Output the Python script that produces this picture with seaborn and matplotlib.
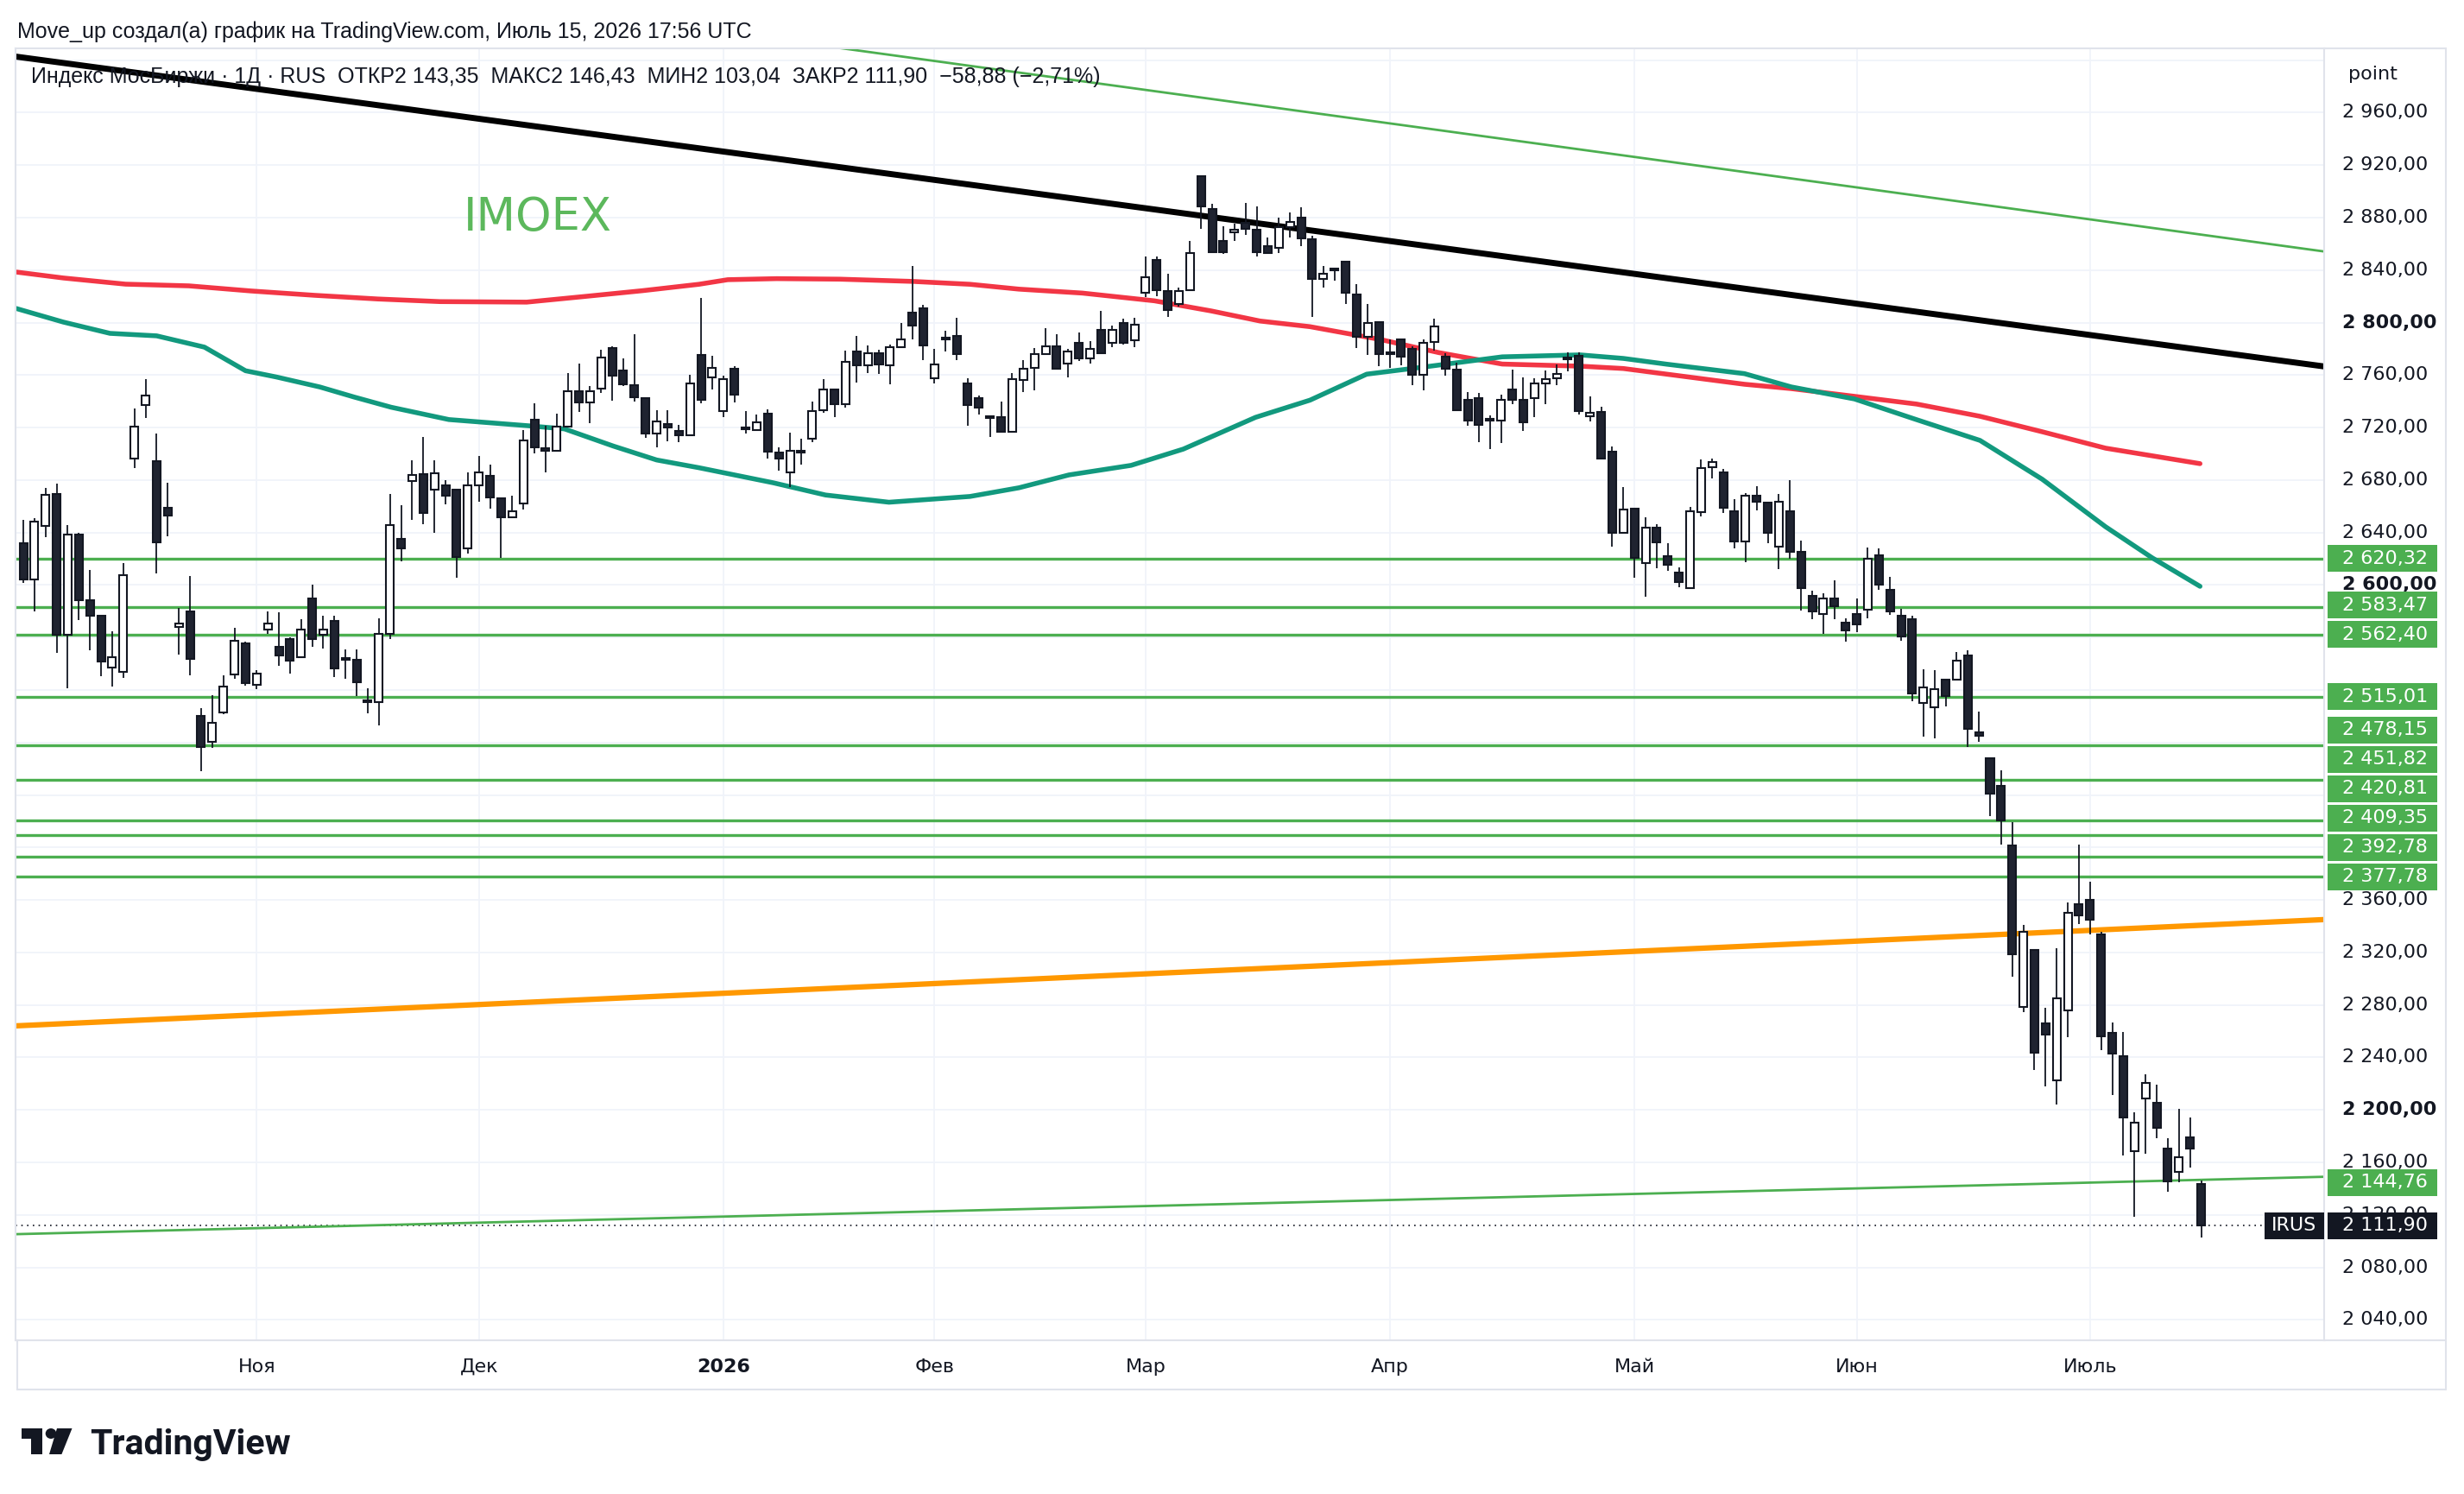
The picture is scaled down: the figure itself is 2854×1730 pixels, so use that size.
import matplotlib
matplotlib.use("Agg")
import numpy as np
import pandas as pd
import matplotlib.pyplot as plt
import seaborn as sns
from matplotlib.patches import Rectangle, Ellipse, Polygon
from matplotlib.lines import Line2D

# ---- daily candles, IMOEX ----
opens = [2631.9, 2604.4, 2645.3, 2669.5, 2562.2, 2638.5, 2588.2, 2576.5, 2537.4, 2534.1,
         2696.3, 2737.4, 2694.3, 2658.7, 2568.2, 2579.8, 2500.5, 2480.5, 2502.7, 2531.9,
         2555.6, 2524.2, 2566.2, 2552.8, 2558.7, 2545.1, 2590.0, 2562.2, 2572.9, 2543.5,
         2542.9, 2511.3, 2511.1, 2562.8, 2635.0, 2679.1, 2684.4, 2673.0, 2676.3, 2672.5,
         2628.0, 2676.3, 2683.5, 2666.4, 2651.7, 2662.4, 2726.3, 2704.3, 2702.3, 2720.8,
         2748.0, 2739.2, 2749.7, 2780.5, 2763.3, 2752.6, 2742.7, 2715.3, 2723.0, 2717.3,
         2714.2, 2775.4, 2758.5, 2732.6, 2764.7, 2719.5, 2718.4, 2730.9, 2701.1, 2685.7,
         2701.1, 2711.4, 2733.3, 2749.3, 2738.1, 2778.3, 2767.3, 2776.5, 2767.3, 2781.6,
         2807.9, 2811.2, 2757.9, 2787.5, 2789.9, 2753.7, 2742.5, 2727.2, 2727.8, 2716.9,
         2756.3, 2765.5, 2776.0, 2782.2, 2769.0, 2784.8, 2772.7, 2794.2, 2784.8, 2799.5,
         2786.5, 2822.7, 2848.0, 2824.3, 2814.4, 2824.7, 2911.4, 2886.8, 2862.0, 2868.8,
         2875.8, 2871.0, 2858.3, 2856.8, 2873.0, 2880.0, 2863.8, 2833.1, 2840.1, 2846.3,
         2821.7, 2789.2, 2800.2, 2776.1, 2787.0, 2780.0, 2760.3, 2785.3, 2774.3, 2764.4,
         2741.4, 2742.7, 2725.6, 2725.1, 2749.3, 2740.9, 2742.5, 2753.4, 2757.8, 2772.1,
         2774.9, 2728.4, 2731.7, 2701.4, 2640.0, 2658.0, 2616.5, 2643.9, 2622.0, 2609.7,
         2597.9, 2655.8, 2690.0, 2685.6, 2656.0, 2633.0, 2667.8, 2663.0, 2629.0, 2656.0,
         2625.1, 2591.7, 2577.9, 2589.5, 2571.5, 2578.1, 2581.4, 2622.4, 2596.1, 2576.8,
         2574.2, 2510.1, 2506.8, 2528.1, 2527.6, 2546.1, 2487.9, 2468.3, 2447.2, 2401.6,
         2278.7, 2321.6, 2265.8, 2222.4, 2275.7, 2357.0, 2360.0, 2333.9, 2258.8, 2241.0,
         2168.6, 2208.8, 2205.5, 2170.3, 2153.0, 2179.0, 2143.35]
highs = [2649.7, 2651.2, 2673.7, 2677.6, 2645.7, 2639.8, 2611.7, 2576.5, 2564.9, 2616.7,
         2734.7, 2757.1, 2715.6, 2678.0, 2582.5, 2606.8, 2506.0, 2515.9, 2531.0, 2567.3,
         2556.8, 2534.8, 2579.8, 2579.2, 2560.0, 2573.8, 2600.1, 2576.4, 2576.4, 2550.6,
         2550.6, 2521.2, 2574.7, 2669.7, 2660.9, 2694.9, 2712.9, 2694.9, 2679.6, 2673.6,
         2685.7, 2698.2, 2691.6, 2666.8, 2667.9, 2717.9, 2738.8, 2721.2, 2730.4, 2761.4,
         2768.8, 2751.9, 2779.4, 2782.0, 2772.8, 2791.0, 2743.2, 2733.3, 2733.3, 2722.3,
         2760.0, 2818.8, 2774.5, 2759.6, 2766.6, 2732.6, 2730.0, 2733.7, 2704.8, 2716.2,
         2711.4, 2739.9, 2756.8, 2749.8, 2778.7, 2789.7, 2782.7, 2779.4, 2783.1, 2799.8,
         2843.0, 2813.4, 2779.8, 2793.7, 2803.5, 2757.9, 2744.3, 2728.3, 2739.9, 2761.8,
         2771.2, 2780.4, 2795.8, 2790.9, 2780.0, 2792.5, 2785.9, 2808.9, 2798.0, 2803.0,
         2803.4, 2850.2, 2850.2, 2837.0, 2826.9, 2862.0, 2911.4, 2890.8, 2873.6, 2875.4,
         2891.2, 2888.3, 2864.9, 2880.0, 2884.0, 2888.0, 2866.0, 2843.0, 2841.4, 2846.7,
         2829.1, 2814.0, 2800.6, 2787.0, 2787.5, 2782.2, 2787.5, 2803.0, 2776.5, 2769.5,
         2747.1, 2746.4, 2729.5, 2744.9, 2764.0, 2758.0, 2757.4, 2763.3, 2768.3, 2777.1,
         2777.1, 2743.5, 2736.1, 2705.4, 2674.4, 2658.0, 2651.6, 2646.6, 2631.7, 2613.7,
         2659.3, 2695.9, 2696.6, 2688.3, 2665.2, 2670.2, 2675.1, 2663.5, 2669.2, 2679.9,
         2634.1, 2595.4, 2593.9, 2603.3, 2574.6, 2589.5, 2628.3, 2627.9, 2606.0, 2581.8,
         2576.4, 2535.8, 2535.1, 2528.5, 2548.9, 2550.0, 2503.5, 2468.6, 2459.1, 2419.5,
         2340.9, 2322.0, 2277.7, 2323.5, 2358.2, 2402.1, 2374.1, 2335.7, 2266.3, 2259.6,
         2198.4, 2227.4, 2219.4, 2178.5, 2200.8, 2194.4, 2146.43]
lows = [2601.4, 2579.8, 2636.5, 2548.6, 2521.6, 2573.2, 2550.2, 2530.4, 2522.5, 2529.1,
        2689.2, 2727.5, 2608.8, 2637.0, 2546.9, 2531.0, 2458.3, 2475.7, 2501.8, 2528.6,
        2523.1, 2520.9, 2562.9, 2538.1, 2532.6, 2544.6, 2552.7, 2551.6, 2529.7, 2528.8,
        2515.5, 2502.3, 2493.1, 2558.9, 2618.1, 2649.9, 2646.2, 2640.1, 2661.3, 2605.4,
        2624.1, 2663.5, 2658.1, 2620.8, 2651.7, 2657.6, 2700.4, 2686.1, 2701.9, 2720.8,
        2732.2, 2723.4, 2746.4, 2740.3, 2751.9, 2739.6, 2712.4, 2704.8, 2709.8, 2708.7,
        2714.2, 2738.8, 2749.3, 2728.2, 2739.4, 2715.3, 2718.4, 2696.6, 2687.2, 2674.7,
        2691.6, 2709.2, 2731.1, 2727.8, 2735.1, 2754.6, 2761.8, 2760.7, 2752.8, 2781.6,
        2787.1, 2771.7, 2753.7, 2777.9, 2771.7, 2721.3, 2730.0, 2712.9, 2716.9, 2716.9,
        2747.1, 2748.2, 2776.0, 2764.6, 2758.0, 2770.5, 2768.8, 2776.5, 2781.1, 2783.0,
        2781.1, 2819.5, 2820.3, 2804.1, 2812.2, 2824.7, 2871.5, 2852.8, 2852.1, 2862.0,
        2866.6, 2850.2, 2852.4, 2853.0, 2864.9, 2858.0, 2804.6, 2826.5, 2832.0, 2814.4,
        2780.4, 2775.6, 2766.8, 2765.5, 2767.7, 2752.4, 2748.2, 2778.7, 2759.6, 2733.3,
        2721.6, 2709.1, 2703.7, 2708.0, 2737.6, 2717.2, 2727.8, 2737.6, 2752.5, 2762.9,
        2730.0, 2724.5, 2695.7, 2629.0, 2639.6, 2605.3, 2591.1, 2612.6, 2611.0, 2598.3,
        2597.9, 2652.1, 2681.2, 2654.7, 2627.9, 2617.6, 2656.9, 2631.6, 2611.9, 2620.2,
        2580.3, 2573.7, 2562.5, 2574.2, 2556.6, 2564.3, 2574.8, 2596.1, 2577.4, 2557.7,
        2511.6, 2484.6, 2482.9, 2507.2, 2527.0, 2476.5, 2480.3, 2423.7, 2402.1, 2301.2,
        2274.5, 2230.6, 2218.2, 2203.8, 2255.4, 2341.9, 2333.9, 2245.5, 2211.3, 2165.4,
        2118.3, 2166.6, 2178.5, 2137.4, 2145.0, 2156.2, 2103.04]
closes = [2604.4, 2648.4, 2668.8, 2562.2, 2638.5, 2588.2, 2576.5, 2541.8, 2544.7, 2607.3,
          2720.7, 2744.2, 2632.6, 2653.2, 2570.4, 2544.0, 2476.5, 2494.8, 2522.9, 2557.2,
          2525.3, 2532.6, 2570.4, 2546.4, 2542.4, 2565.9, 2558.9, 2565.9, 2536.3, 2542.9,
          2526.0, 2511.0, 2562.6, 2645.6, 2628.0, 2684.0, 2654.8, 2685.5, 2668.1, 2621.4,
          2675.8, 2686.1, 2666.8, 2651.7, 2656.5, 2710.3, 2704.8, 2702.6, 2720.6, 2748.0,
          2739.2, 2748.0, 2773.6, 2759.4, 2752.8, 2743.2, 2715.3, 2724.9, 2720.1, 2714.0,
          2753.9, 2741.4, 2765.5, 2756.8, 2744.9, 2718.6, 2724.1, 2701.9, 2696.7, 2702.2,
          2701.5, 2732.9, 2749.3, 2738.1, 2770.0, 2767.3, 2776.5, 2768.0, 2781.1, 2787.5,
          2797.6, 2782.7, 2767.8, 2787.6, 2776.1, 2737.3, 2735.5, 2727.3, 2716.9, 2757.0,
          2765.0, 2776.0, 2782.2, 2764.6, 2778.2, 2772.7, 2780.0, 2776.9, 2794.7, 2784.8,
          2798.6, 2834.8, 2824.7, 2809.6, 2824.3, 2853.2, 2888.3, 2853.5, 2853.5, 2871.0,
          2871.5, 2853.9, 2852.8, 2873.0, 2877.0, 2864.3, 2833.5, 2837.0, 2840.3, 2822.6,
          2789.2, 2799.7, 2776.1, 2776.3, 2773.9, 2760.3, 2784.4, 2796.9, 2765.1, 2733.3,
          2725.2, 2721.9, 2725.8, 2740.9, 2740.9, 2723.8, 2753.4, 2756.9, 2761.1, 2772.3,
          2732.6, 2731.5, 2696.4, 2639.6, 2657.5, 2620.7, 2643.9, 2632.3, 2615.4, 2602.3,
          2656.4, 2689.4, 2693.7, 2658.6, 2632.9, 2667.8, 2663.5, 2640.0, 2663.7, 2625.1,
          2597.9, 2579.6, 2589.9, 2583.6, 2565.4, 2569.8, 2619.8, 2600.5, 2579.6, 2560.6,
          2517.1, 2521.9, 2520.4, 2515.4, 2542.4, 2490.4, 2485.3, 2441.0, 2420.7, 2318.6,
          2335.9, 2243.5, 2257.1, 2284.9, 2350.1, 2348.1, 2344.6, 2255.9, 2242.7, 2193.9,
          2190.2, 2220.7, 2186.4, 2145.5, 2163.6, 2170.8, 2111.90]

# first bar of each month on the time axis
month_labels = ["Ноя", "Дек", "2026", "Фев", "Мар", "Апр", "Май", "Июн", "Июль"]
month_start_bar = [21, 41, 63, 82, 101, 123, 145, 165, 186]

# moving averages (bar index, value)
ma_red_bar = [-0.7, 3.6, 9.2, 14.9, 20.5, 26.2, 31.9, 37.5, 45.3, 50.5, 55.7, 60.8, 63.4,
              67.8, 73.5, 80.0, 85.2, 89.6, 95.3, 101.8, 106.9, 111.3, 115.8, 122.2, 127.4,
              133.1, 140.1, 144.0, 147.9, 154.9, 159.1, 164.8, 170.4, 176.1, 181.7, 187.4, 195.9]
ma_red_val = [2838.6, 2834.0, 2829.3, 2828.0, 2824.1, 2820.8, 2818.0, 2816.0, 2815.6, 2819.9,
              2824.3, 2829.2, 2832.7, 2833.5, 2833.1, 2831.4, 2829.2, 2825.5, 2822.5, 2816.6,
              2808.9, 2801.2, 2796.9, 2787.0, 2777.1, 2768.4, 2766.8, 2765.0, 2760.7, 2753.0,
              2749.7, 2743.8, 2737.9, 2728.6, 2716.8, 2704.3, 2692.5]
ma_teal_bar = [-0.7, 3.6, 7.8, 12.0, 16.3, 20.0, 22.8, 26.7, 29.8, 33.1, 38.3, 45.4, 48.7,
               53.1, 57.0, 60.8, 67.5, 72.2, 77.9, 85.2, 89.6, 94.1, 99.7, 104.4, 110.9,
               115.8, 120.9, 126.1, 133.1, 140.1, 144.0, 147.9, 154.9, 159.1, 164.8, 170.4,
               176.1, 181.7, 187.4, 191.6, 195.9]
ma_teal_val = [2810.9, 2800.4, 2791.8, 2789.9, 2781.3, 2763.3, 2758.5, 2750.9, 2743.2, 2735.5,
               2726.1, 2721.4, 2719.0, 2705.9, 2695.3, 2689.4, 2677.9, 2668.6, 2663.1, 2667.5,
               2674.1, 2683.9, 2691.2, 2703.6, 2727.8, 2740.9, 2760.7, 2766.2, 2773.9, 2775.4,
               2772.7, 2768.3, 2761.1, 2751.0, 2741.8, 2726.0, 2710.2, 2680.6, 2644.4, 2620.7,
               2599.0]

# drawn lines: end points (bar index, price)
black_trend_bar = [-1.0, 207.5]
black_trend_val = [3003.1, 2766.1]
green_upper_bar = [72.0, 207.5]
green_upper_val = [3011.0, 2853.7]
orange_trend_bar = [-1.0, 207.5]
orange_trend_val = [2263.9, 2345.2]
green_lower_bar = [-1.0, 207.5]
green_lower_val = [2105.2, 2149.1]
green_lower_label = 2144.76

levels = [2620.32, 2583.47, 2562.40, 2515.01, 2478.15, 2451.82, 2420.81, 2409.35, 2392.78, 2377.78]
last_close = 2111.90
bold_ticks = [2800, 2600, 2200]
hidden_ticks = [2560, 2520, 2480, 2440, 2400]  # fully under the level labels

title = "Move_up создал(а) график на TradingView.com, Июль 15, 2026 17:56 UTC"
legend = ("Индекс МосБиржи · 1Д · RUS  ОТКР2 143,35  МАКС2 146,43  МИН2 103,04  "
          "ЗАКР2 111,90  −58,88 (−2,71%)")

W, H = 2854, 1730
GREEN = "#4caf50"
DARK = "#131722"
GRID = "#f0f3fa"
BORDER = "#e0e3eb"
PX_PER_PT = 1.5193  # pixels per index point


def fx(px):
    return px / W


def fy(py):
    return 1 - py / H


def price_fmt(v):
    return f"{v:,.2f}".replace(",", " ").replace(".", ",")


sns.set_theme(style="white")
plt.rcParams["font.family"] = ["DejaVu Sans"]
HEAD_FONT = ["Liberation Sans", "DejaVu Sans"]

fig = plt.figure(figsize=(W / 100, H / 100), dpi=100)
fig.patch.set_facecolor("white")

ylo, yhi = 2024.4, 3009.0
ax = fig.add_axes([fx(18), fy(1552), (2692 - 18) / W, (1552 - 56) / H])
ax.set_facecolor("white")
ax.set_xlim(-0.70, 207.07)
ax.set_ylim(ylo, yhi)

# grid
ax.set_yticks(np.arange(2040, 3001, 40))
ax.set_yticklabels([])
ax.set_xticks(month_start_bar)
ax.set_xticklabels(month_labels)
ax.tick_params(axis="both", length=0)
ax.tick_params(axis="x", pad=15, labelsize=16, labelcolor=DARK)
ax.grid(True, color=GRID, lw=1.3)
ax.set_axisbelow(True)
for lbl in ax.get_xticklabels():
    if lbl.get_text() == "2026":
        lbl.set_fontweight("bold")
for sp in ax.spines.values():
    sp.set_color(BORDER)
    sp.set_linewidth(1.5)

# horizontal levels
ax.hlines(levels, -1, 208, color=GREEN, lw=2.4, zorder=2)
ax.axhline(last_close, color=DARK, lw=1.2, ls=(0, (1, 3)), zorder=2)

# trend lines
ax.plot(black_trend_bar, black_trend_val, color="black", lw=5, zorder=2.5, solid_capstyle="butt")
ax.plot(green_upper_bar, green_upper_val, color=GREEN, lw=2.0, zorder=2)
ax.plot(orange_trend_bar, orange_trend_val, color="#ff9800", lw=4.5, zorder=2)
ax.plot(green_lower_bar, green_lower_val, color=GREEN, lw=2.0, zorder=2)

# moving averages
ma = pd.DataFrame({"bar": ma_red_bar, "val": ma_red_val})
sns.lineplot(data=ma, x="bar", y="val", ax=ax, color="#f23645", lw=4, sort=False,
             estimator=None, zorder=2.2)
ma = pd.DataFrame({"bar": ma_teal_bar, "val": ma_teal_val})
sns.lineplot(data=ma, x="bar", y="val", ax=ax, color="#12997e", lw=4, sort=False,
             estimator=None, zorder=2.2)
ax.set_xlabel("")
ax.set_ylabel("")

# candles
df = pd.DataFrame({"open": opens, "high": highs, "low": lows, "close": closes})
df["bar"] = np.arange(len(df))
df["bottom"] = df[["open", "close"]].min(axis=1)
df["body"] = (df["close"] - df["open"]).abs().clip(lower=1.2)
fills = np.where(df["close"] >= df["open"], "white", "#1f2330")
ax.vlines(df["bar"], df["low"], df["high"], color=DARK, lw=1.3, zorder=4)
ax.bar(df["bar"], df["body"], bottom=df["bottom"], width=0.7, color=fills,
       edgecolor=DARK, linewidth=1.5, zorder=5)

# header texts
fig.text(fx(20), fy(44), title, fontsize=18, family=HEAD_FONT, color=DARK, va="baseline")
fig.text(fx(36), fy(96), legend, fontsize=18, family=HEAD_FONT, color=DARK, va="baseline",
         zorder=10)
fig.text(fx(537), fy(267), "IMOEX", fontsize=38, color="#5cb85c", va="baseline")

# right price scale
axr = fig.add_axes([fx(2692), fy(1552), (2833 - 2692) / W, (1552 - 56) / H])
axr.set_xlim(0, 141)
axr.set_ylim(ylo, yhi)
axr.axis("off")
for v in np.arange(2040, 2961, 40):
    if v in hidden_ticks:
        continue
    axr.text(21, v, price_fmt(v), va="center", ha="left", fontsize=16, color=DARK,
             fontweight="bold" if v in bold_ticks else "normal", zorder=1)

half = 15.5 / PX_PER_PT
step = 34 / PX_PER_PT
placed = {}
prev = None
for v in sorted(levels):
    y = v if prev is None else max(v, prev + step)
    placed[v] = y
    prev = y


def price_box(y, txt, fc):
    axr.add_patch(Rectangle((4, y - half), 127, 2 * half, fc=fc, ec="none", zorder=3,
                            clip_on=False))
    axr.text(21, y, txt, va="center", ha="left", fontsize=16, color="white", zorder=4)


for v, y in placed.items():
    price_box(y, price_fmt(v), GREEN)
price_box(green_lower_label, price_fmt(green_lower_label), GREEN)
price_box(last_close, price_fmt(last_close), DARK)
axr.add_patch(Rectangle((-69, last_close - half), 69, 2 * half, fc=DARK, ec="none",
                        zorder=3, clip_on=False))
axr.text(-35, last_close, "IRUS", va="center", ha="center", fontsize=16, color="white",
         zorder=4, clip_on=False)
fig.text(fx(2720), fy(86), "point", fontsize=16, color=DARK, va="center")

# frame lines
for xs, ys in [([2833, 2833], [56, 1609]), ([20, 2833], [1609, 1609]),
               ([20, 20], [1552, 1609]), ([2692, 2833], [56, 56]),
               ([2692, 2833], [1552, 1552])]:
    fig.add_artist(Line2D([fx(x) for x in xs], [fy(y) for y in ys], color=BORDER, lw=1.5))

# TradingView logo
logo = "#131722"
fig.add_artist(Rectangle((fx(24.5), fy(1666)), 24.5 / W, 12 / H, fc=logo, ec="none",
                         transform=fig.transFigure))
fig.add_artist(Rectangle((fx(36), fy(1684)), 13 / W, 30 / H, fc=logo, ec="none",
                         transform=fig.transFigure))
fig.add_artist(Ellipse((fx(59), fy(1660)), 12.6 / W, 12 / H, fc=logo, ec="none",
                       transform=fig.transFigure))
fig.add_artist(Polygon([(fx(66), fy(1654)), (fx(83.5), fy(1654)), (fx(71.4), fy(1684)),
                        (fx(57), fy(1684))], closed=True, fc=logo, ec="none",
                       transform=fig.transFigure))
fig.text(fx(104), fy(1684), "TradingView", fontsize=29.5, fontweight="bold",
         family=["Roboto", "DejaVu Sans"], color=logo, va="baseline")

fig.savefig("out.png", dpi=100, facecolor="white")
